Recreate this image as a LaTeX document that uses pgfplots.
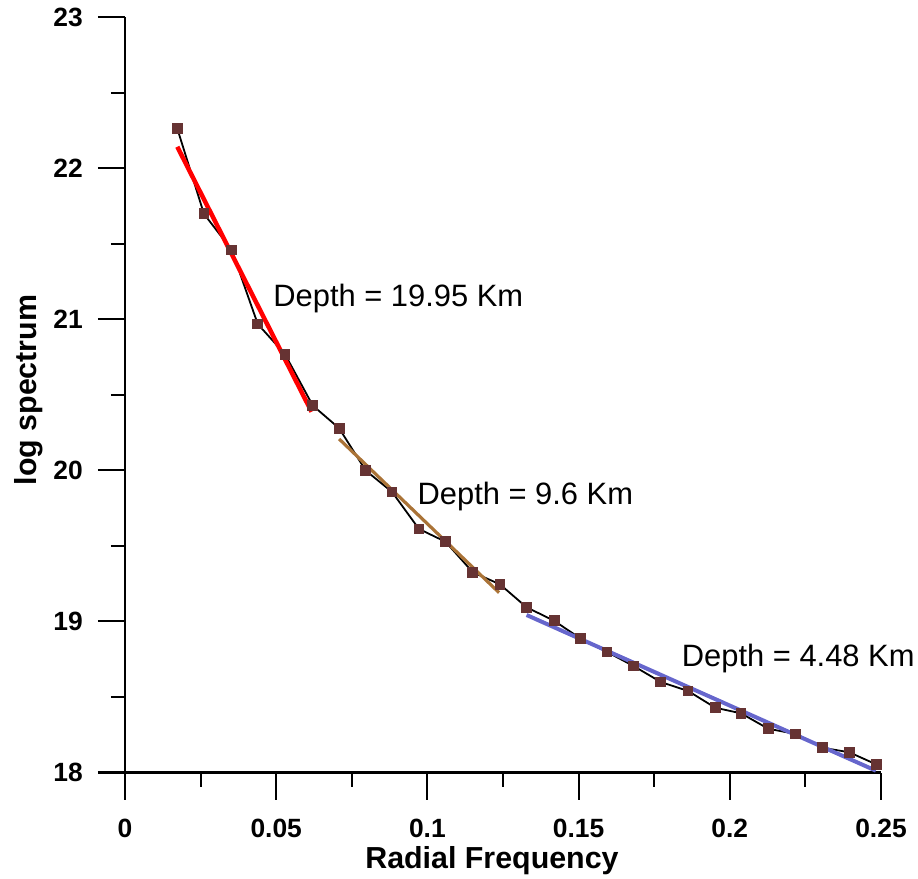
\documentclass[border=0pt]{standalone}
\usepackage{fontspec}
\setmainfont{Liberation Sans}
\usepackage{pgfplots}
\usepackage{pgfplotstable}
\pgfplotsset{compat=1.18}
\definecolor{mk}{RGB}{102,51,51}
\definecolor{fitred}{RGB}{255,0,0}
\definecolor{fitbrown}{RGB}{170,115,55}
\definecolor{fitblue}{RGB}{102,102,204}
\pgfplotstableread{
x y
0.0173 22.264
0.0261 21.70
0.0353 21.46
0.0439 20.97
0.0529 20.77
0.0621 20.43
0.0708 20.28
0.0796 20.00
0.0883 19.858
0.0972 19.613
0.1060 19.528
0.1150 19.326
0.1240 19.246
0.1328 19.094
0.1419 19.005
0.1507 18.886
0.1594 18.798
0.1682 18.705
0.1772 18.599
0.1862 18.540
0.1952 18.429
0.2037 18.392
0.2127 18.290
0.2218 18.255
0.2306 18.164
0.2395 18.134
0.2486 18.052
}\spectrum
\begin{document}
\begin{tikzpicture}
\useasboundingbox (0,0) rectangle (918bp,879bp);
\begin{axis}[
  at={(125bp,106.5bp)}, anchor=south west,
  scale only axis, width=756bp, height=755bp,
  xmin=0, xmax=0.25, ymin=18, ymax=23,
  axis x line=bottom, axis y line=left,
  axis line style={-, line width=2.2bp, black},
  tick style={line width=2bp, black},
  tick align=outside,
  major tick length=27bp, minor tick length=14bp,
  xtick={0,0.05,0.1,0.15,0.2,0.25},
  xticklabels={0,0.05,0.1,0.15,0.2,0.25},
  minor xtick={0.025,0.075,0.125,0.175,0.225},
  ytick={18,19,20,21,22,23},
  yticklabels={18,19,20,21,22,23},
  minor ytick={18.5,19.5,20.5,21.5,22.5},
  /pgf/number format/assume math mode=true,
  ticklabel style={font=\fontsize{26.5}{30}\selectfont\bfseries, inner sep=0pt},
  xticklabel style={anchor=north, yshift=-19bp},
  yticklabel style={anchor=east, xshift=-15bp},
  xlabel={Radial Frequency},
  ylabel={log spectrum},
  label style={font=\fontsize{30.5}{35}\selectfont\bfseries, inner sep=0pt},
  xlabel style={at={(axis description cs:0.4854,0)}, anchor=base, yshift=-95.5bp},
  ylabel style={at={(axis description cs:-0.1177,0.5066)}, anchor=base, rotate=0},
  clip=false,
]
\addplot[black, line width=1.8bp, mark=square*, mark size=4.5bp,
  mark options={fill=mk, draw=mk, solid, rounded corners=1.5bp}] table[x=x, y=y] {\spectrum};
\addplot[fitred, line width=4.5bp] coordinates {(0.0173,22.144) (0.0617,20.389)};
\addplot[fitbrown, line width=3.2bp] coordinates {(0.0708,20.209) (0.1237,19.191)};
\addplot[fitblue, line width=4bp] coordinates {(0.1328,19.043) (0.2483,18.012)};
\node[anchor=base west, inner sep=0pt, font=\fontsize{31}{36}\selectfont] at (axis cs:0.0490,21.083) {Depth = 19.95 Km};
\node[anchor=base west, inner sep=0pt, font=\fontsize{31}{36}\selectfont] at (axis cs:0.0967,19.778) {Depth = 9.6 Km};
\node[anchor=base west, inner sep=0pt, font=\fontsize{31}{36}\selectfont] at (axis cs:0.1841,18.701) {Depth = 4.48 Km};
\end{axis}
\end{tikzpicture}
\end{document}
